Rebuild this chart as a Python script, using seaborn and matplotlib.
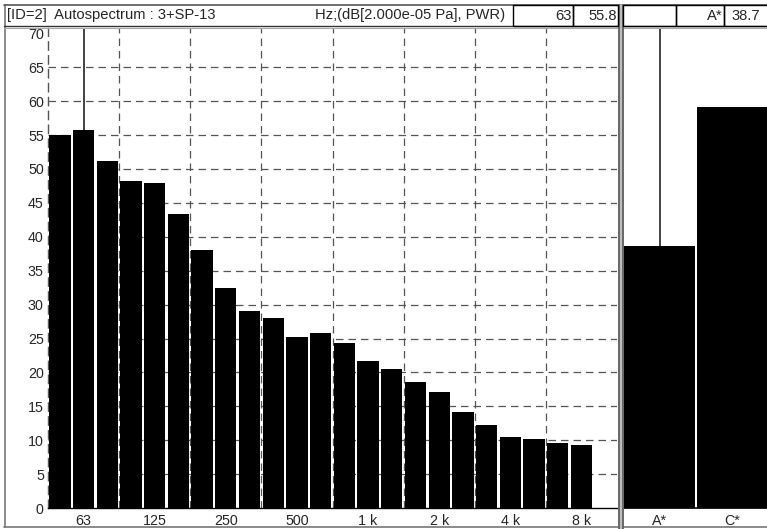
import matplotlib
matplotlib.use("Agg")
import matplotlib.pyplot as plt
from matplotlib.patches import Rectangle
import seaborn as sns
import pandas as pd

# Third-octave band levels, dB re 20 uPa
bands = ["50", "63", "80", "100", "125", "160", "200", "250", "315", "400", "500",
         "630", "800", "1k", "1.25k", "1.6k", "2k", "2.5k", "3.15k", "4k", "5k",
         "6.3k", "8k"]
levels = [55.0, 55.8, 51.2, 48.2, 48.0, 43.4, 38.0, 32.4, 29.0, 28.0, 25.2,
          25.8, 24.3, 21.7, 20.5, 18.6, 17.1, 14.2, 12.2, 10.5, 10.2, 9.6, 9.3]

# Octave tick labels (band index -> label)
octave_idx = [1, 4, 7, 10, 13, 16, 19, 22]
octave_lbl = ["63", "125", "250", "500", "1 k", "2 k", "4 k", "8 k"]

# Overall weighted levels
weights = ["A*", "C*"]
overall = [38.7, 59.2]

cursor_band = "63"
cursor_value = 55.8
cursor_weight = "A*"
cursor_overall = 38.7

sns.set_theme(style="white")
plt.rcParams["font.family"] = ["Liberation Sans", "DejaVu Sans"]
plt.rcParams["font.size"] = 10

FS = 10.3

W, H = 767, 529
fig = plt.figure(figsize=(W / 100, H / 100), dpi=100)


def fx(px):
    return px / W


def fy(py):
    return 1 - py / H


y_top, y_bot = 28, 508
ymax = (y_bot - y_top) / 6.78

# ---- main spectrum panel ----
ax = fig.add_axes([fx(48), fy(y_bot), fx(617) - fx(48), fy(y_top) - fy(y_bot)])
df = pd.DataFrame({"band": bands, "level": levels})
sns.barplot(data=df, x="band", y="level", order=bands, color="black",
            saturation=1, width=0.9, ax=ax, zorder=3)
for p in ax.patches:
    p.set_edgecolor("none")
ax.set_xlim(-0.5, 23.5)
ax.set_ylim(0, ymax)
ax.set_xlabel("")
ax.set_ylabel("")
ax.set_yticks(range(0, 75, 5))
ax.set_yticklabels([str(v) for v in range(0, 75, 5)])
ax.set_xticks(octave_idx)
ax.set_xticklabels(octave_lbl)
ax.tick_params(axis="y", direction="inout", length=6, width=0.8, color="black",
               pad=0, labelsize=FS)
ax.tick_params(axis="x", direction="out", length=3, width=0.8, color="black",
               pad=1, labelsize=FS)
for v in range(5, 70, 5):
    ax.axhline(v, color="#555555", lw=0.9, ls=(0, (6, 4)), zorder=1)
for xv in [2.5, 5.5, 8.5, 11.5, 14.5, 17.5, 20.5]:
    ax.axvline(xv, color="#555555", lw=0.9, ls=(0, (6, 4)), zorder=1)
ci = bands.index(cursor_band)
ax.plot([ci, ci], [cursor_value, ymax], color="#222222", lw=1.2, zorder=2)
for s in ["top", "right"]:
    ax.spines[s].set_visible(False)
ax.spines["left"].set_color("#555555")
ax.spines["left"].set_linewidth(1.0)
ax.spines["left"].set_linestyle((0, (6, 4)))
ax.spines["bottom"].set_color("black")
ax.spines["bottom"].set_linewidth(1.0)

# ---- overall level panel ----
ax2 = fig.add_axes([fx(623), fy(y_bot), 1 - fx(623), fy(y_top) - fy(y_bot)])
df2 = pd.DataFrame({"weight": weights, "level": overall})
sns.barplot(data=df2, x="weight", y="level", order=weights, color="black",
            saturation=1, width=0.97, ax=ax2, zorder=3)
for p in ax2.patches:
    p.set_edgecolor("none")
ax2.set_xlim(-0.5, 1.47)
ax2.set_ylim(0, ymax)
ax2.set_xlabel("")
ax2.set_ylabel("")
ax2.set_yticks([])
ax2.set_xticks([0, 1])
ax2.set_xticklabels(weights)
ax2.tick_params(axis="x", direction="out", length=3, width=0.8, color="black",
                pad=1, labelsize=FS)
wi = weights.index(cursor_weight)
ax2.plot([wi, wi], [cursor_overall, ymax], color="#222222", lw=1.2, zorder=2)
for s in ["top", "right", "left"]:
    ax2.spines[s].set_visible(False)
ax2.spines["bottom"].set_color("black")

# ---- frame, divider and header ----
def box(x0, y0, x1, y1, ec="black", lw=1.0):
    fig.patches.append(Rectangle((fx(x0), fy(y1)), fx(x1) - fx(x0), fy(y0) - fy(y1),
                                 transform=fig.transFigure, fill=False,
                                 edgecolor=ec, lw=lw, zorder=5))


def vline(x, y0, y1, color, lw):
    fig.add_artist(plt.Line2D([fx(x), fx(x)], [fy(y0), fy(y1)],
                              transform=fig.transFigure, color=color, lw=lw))


def hline(y, x0, x1, color, lw):
    fig.add_artist(plt.Line2D([fx(x0), fx(x1)], [fy(y), fy(y)],
                              transform=fig.transFigure, color=color, lw=lw))


# outer frame
vline(4.5, 5, 527, "#777777", 1.2)
hline(527, 4, 767, "#777777", 1.2)
hline(5, 4, 767, "#555555", 1.2)
# header row bottom
hline(26, 4, 767, "#333333", 1.0)
hline(28, 4, 767, "#aaaaaa", 0.8)
# panel divider
vline(618.5, 5, 529, "#666666", 1.4)
vline(620.5, 5, 529, "#bbbbbb", 1.4)
vline(622.5, 5, 529, "#666666", 1.4)

# header boxes
box(513, 5, 573, 26)
box(573, 5, 618, 26)
box(623, 5, 676, 26)
box(676, 5, 724, 26)
box(724, 5, 790, 26)

HF = 10.6
ty = fy(15.5)
fig.text(fx(7), ty, "[ID=2]  Autospectrum : 3+SP-13", ha="left", va="center",
         fontsize=HF)
fig.text(fx(505), ty, "Hz;(dB[2.000e-05 Pa], PWR)", ha="right", va="center",
         fontsize=HF)
fig.text(fx(572), ty, cursor_band, ha="right", va="center", fontsize=HF)
fig.text(fx(617), ty, f"{cursor_value:.1f}", ha="right", va="center", fontsize=HF)
fig.text(fx(723), ty, cursor_weight, ha="right", va="center", fontsize=HF)
fig.text(fx(731), ty, f"{cursor_overall:.1f}", ha="left", va="center", fontsize=HF)

fig.savefig("out.png", dpi=100, facecolor="white")
